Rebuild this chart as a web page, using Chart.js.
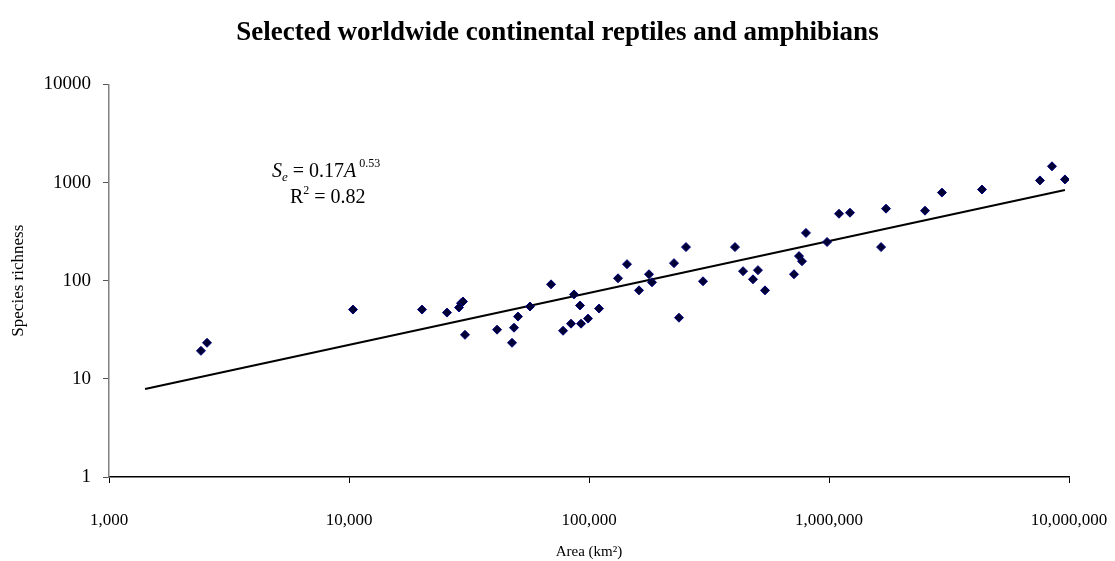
<!DOCTYPE html>
<html>
<head>
<meta charset="utf-8">
<script src="https://cdn.jsdelivr.net/npm/chart.js@4/dist/chart.umd.min.js"></script>
<style>
    body { margin: 0; background: #fff; }
    #wrap { width: 1115px; height: 561px; position: relative; }
</style>
</head>
<body>
<div id="wrap"><canvas id="speciesChart"></canvas></div>
<script>
// Area (km2) and species richness
const areaKm2 = [
    2416, 2561, 10390, 20150, 25600, 28720, 29290, 29850, 30430, 41390,
    47780, 48700, 50600, 56780, 69480, 77950, 84140, 86600, 91730, 92640,
    99040, 110100, 132100, 144000, 161600, 177800, 183000, 226000, 237100, 253600,
    298500, 405800, 438400, 482200, 505800, 541100, 714600, 749900, 771700, 801700,
    981700, 1101000, 1223000, 1648000, 1728000, 2512000, 2955000, 4340000, 7568000, 8493000,
    9620000
];
const richness = [
    19.3, 23.3, 50.8, 50.8, 47.3, 53.3, 59, 61.4, 28.1, 31.7,
    23.3, 33.2, 43.1, 54.6, 91.8, 30.9, 36.5, 72.5, 55.9, 36.5,
    41.1, 52.0, 105.8, 147.4, 79.7, 116.3, 96.3, 151, 42.0, 220,
    98.6, 220, 125, 103.3, 128, 79.7, 116.3, 178, 158, 307,
    248, 481, 493, 220, 542, 517, 791, 849, 1051, 1464,
    1076
];

// power-law fit S = 0.17 A^0.53, end points of the drawn line
const trendArea = [1413, 9620000];
const trendRichness = [7.9, 840];

const xTicks = [1000, 10000, 100000, 1000000, 10000000];
const yTicks = [1, 10, 100, 1000, 10000];

const serif = "'Liberation Serif', 'Times New Roman', serif";

// equation text in the upper left of the plot
const equationLabel = {
    id: 'equationLabel',
    afterDatasetsDraw(chart) {
        const ctx = chart.ctx;
        const area = chart.chartArea;
        ctx.save();
        ctx.fillStyle = '#000';
        ctx.textBaseline = 'alphabetic';
        ctx.textAlign = 'left';

        let x = area.left + 163;
        let y = area.top + 93;
        const parts = [
            { t: 'S', f: 'italic 20px ' + serif, dy: 0 },
            { t: 'e', f: 'italic 13px ' + serif, dy: 4 },
            { t: ' = 0.17', f: '20px ' + serif, dy: 0 },
            { t: 'A', f: 'italic 20px ' + serif, dy: 0 },
            { t: ' 0.53', f: '12px ' + serif, dy: -10 }
        ];
        parts.forEach(p => {
            ctx.font = p.f;
            ctx.fillText(p.t, x, y + p.dy);
            x += ctx.measureText(p.t).width;
        });

        x = area.left + 181;
        y = area.top + 119;
        const parts2 = [
            { t: 'R', f: '20px ' + serif, dy: 0 },
            { t: '2', f: '12px ' + serif, dy: -9 },
            { t: ' = 0.82', f: '20px ' + serif, dy: 0 }
        ];
        parts2.forEach(p => {
            ctx.font = p.f;
            ctx.fillText(p.t, x, y + p.dy);
            x += ctx.measureText(p.t).width;
        });
        ctx.restore();
    }
};

const ctx = document.getElementById('speciesChart').getContext('2d');
new Chart(ctx, {
    data: {
        datasets: [
            {
                type: 'scatter',
                label: 'Species',
                data: areaKm2.map((a, i) => ({ x: a, y: richness[i] })),
                pointStyle: 'rectRot',
                pointRadius: 4.5,
                backgroundColor: '#000033',
                borderColor: '#000080',
                borderWidth: 1,
                order: 0
            },
            {
                type: 'line',
                label: 'Fit',
                data: trendArea.map((a, i) => ({ x: a, y: trendRichness[i] })),
                borderColor: '#000',
                borderWidth: 2,
                pointRadius: 0,
                fill: false,
                order: 1
            }
        ]
    },
    options: {
        responsive: true,
        maintainAspectRatio: false,
        animation: false,
        layout: {
            padding: { left: 0, right: 0, top: 0, bottom: 0 }
        },
        plugins: {
            legend: { display: false },
            tooltip: { enabled: false },
            title: {
                display: true,
                text: 'Selected worldwide continental reptiles and amphibians',
                color: '#000',
                font: { family: serif, size: 27, weight: 'bold' },
                padding: { top: 17, bottom: 35 }
            }
        },
        scales: {
            x: {
                type: 'logarithmic',
                position: 'bottom',
                min: 1000,
                max: 10000000,
                afterBuildTicks: scale => {
                    scale.ticks = xTicks.map(v => ({ value: v }));
                },
                afterFit: scale => {
                    scale.height = 84;
                    scale.paddingRight = 46;
                },
                ticks: {
                    color: '#000',
                    font: { family: serif, size: 17 },
                    padding: 27,
                    maxRotation: 0,
                    autoSkip: false,
                    callback: v => Number(v).toLocaleString('en-US')
                },
                grid: {
                    drawOnChartArea: false,
                    drawTicks: true,
                    tickLength: 6,
                    color: '#000'
                },
                border: { color: '#000', width: 1.5 },
                title: {
                    display: true,
                    text: 'Area (km²)',
                    color: '#000',
                    font: { family: serif, size: 15 },
                    padding: { top: 8, bottom: 0 }
                }
            },
            y: {
                type: 'logarithmic',
                min: 1,
                max: 10000,
                afterBuildTicks: scale => {
                    scale.ticks = yTicks.map(v => ({ value: v }));
                },
                afterFit: scale => {
                    scale.width = 109;
                },
                ticks: {
                    color: '#000',
                    font: { family: serif, size: 19 },
                    padding: 12,
                    autoSkip: false,
                    callback: v => String(v)
                },
                grid: {
                    drawOnChartArea: false,
                    drawTicks: true,
                    tickLength: 6,
                    color: '#555'
                },
                border: { color: '#808080', width: 1.5 },
                title: {
                    display: true,
                    text: 'Species richness',
                    color: '#000',
                    font: { family: serif, size: 17 },
                    padding: { top: 8, bottom: 0 }
                }
            }
        }
    },
    plugins: [equationLabel]
});
</script>
</body>
</html>
